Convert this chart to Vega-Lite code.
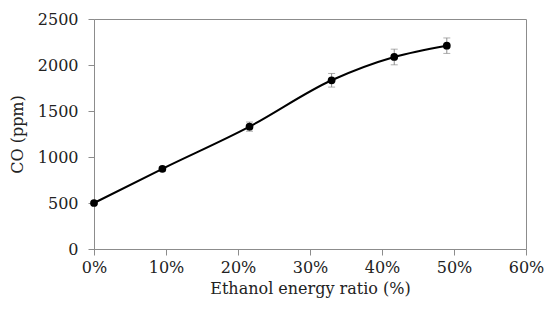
{
  "$schema": "https://vega.github.io/schema/vega-lite/v6.json",
  "width": 432,
  "height": 230,
  "autosize": "none",
  "padding": {"left": 94, "top": 19, "right": 18, "bottom": 65},
  "background": "white",
  "config": {
    "font": "DejaVu Serif",
    "view": {"stroke": "#8c8c8c", "strokeWidth": 1},
    "axis": {
      "labelFont": "DejaVu Serif",
      "titleFont": "DejaVu Serif",
      "labelFontSize": 16,
      "titleFontSize": 16,
      "titleFontWeight": "normal",
      "labelColor": "#222",
      "titleColor": "#222",
      "domainColor": "#8c8c8c",
      "tickColor": "#8c8c8c",
      "grid": false
    }
  },
  "data": {
    "values": [
      {"ratio": 0.0, "co": 500, "err": 12},
      {"ratio": 0.095, "co": 872, "err": 25},
      {"ratio": 0.216, "co": 1330, "err": 50},
      {"ratio": 0.33, "co": 1834, "err": 74},
      {"ratio": 0.417, "co": 2087, "err": 85},
      {"ratio": 0.49, "co": 2210, "err": 84}
    ]
  },
  "encoding": {
    "x": {
      "field": "ratio",
      "type": "quantitative",
      "scale": {"domain": [0, 0.6], "nice": false},
      "axis": {
        "format": ".0%",
        "values": [0, 0.1, 0.2, 0.3, 0.4, 0.5, 0.6],
        "tickSize": 6,
        "labelPadding": 4,
        "labelFlush": false,
        "labelOverlap": false,
        "title": "Ethanol energy ratio (%)",
        "titlePadding": 5
      }
    },
    "y": {
      "field": "co",
      "type": "quantitative",
      "scale": {"domain": [0, 2500], "nice": false},
      "axis": {
        "values": [0, 500, 1000, 1500, 2000, 2500],
        "format": "d",
        "tickSize": 6,
        "labelPadding": 10,
        "labelFlush": false,
        "title": "CO (ppm)",
        "titlePadding": 12
      }
    }
  },
  "layer": [
    {
      "mark": {"type": "errorbar", "ticks": {"size": 7, "color": "#8c8c8c"}, "color": "#8c8c8c", "thickness": 1},
      "encoding": {
        "y": {"field": "co", "type": "quantitative", "title": "CO (ppm)"},
        "yError": {"field": "err"}
      }
    },
    {
      "mark": {"type": "line", "interpolate": "monotone", "color": "black", "strokeWidth": 2}
    },
    {
      "mark": {"type": "point", "filled": true, "color": "black", "opacity": 1, "size": 60}
    }
  ]
}
